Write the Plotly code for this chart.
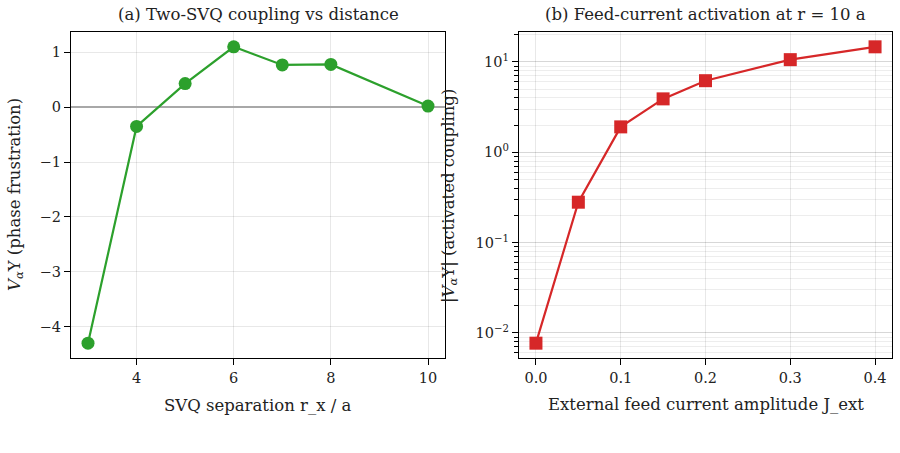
import plotly.graph_objects as go
import math

# ---- data ----
sep = [3, 4, 5, 6, 7, 8, 10]
v_coupling = [-4.30, -0.35, 0.43, 1.10, 0.77, 0.78, 0.02]

j_ext = [0.0, 0.05, 0.10, 0.15, 0.20, 0.30, 0.40]
v_activated = [0.0077, 0.28, 1.91, 3.9, 6.2, 10.6, 14.7]

left_xticks = [4, 6, 8, 10]
left_yticks = [-4, -3, -2, -1, 0, 1]
right_xticks = [0.0, 0.1, 0.2, 0.3, 0.4]
right_yticks = [0.01, 0.1, 1, 10]
right_yticktext = ["10<sup>−2</sup>", "10<sup>−1</sup>", "10<sup>0</sup>", "10<sup>1</sup>"]

title_a = "(a) Two-SVQ coupling vs distance"
title_b = "(b) Feed-current activation at r = 10 a"
xlabel_a = "SVQ separation r_x / a"
xlabel_b = "External feed current amplitude J_ext"
ylabel_a = "<i>V</i><sub><i>α</i></sub>Υ (phase frustration)"
ylabel_b = "|<i>V</i><sub><i>α</i></sub>Υ| (activated coupling)"

GREEN = "#2ca02c"
RED = "#d62728"
FONT = "DejaVu Serif"
W, H = 900, 453


def pad(lo, hi, m=0.05):
    s = hi - lo
    return [lo - m * s, hi + m * s]


def minus(v):
    s = ("%g" % v)
    return s.replace("-", "−")


fig = go.Figure()
fig.add_trace(go.Scatter(x=sep, y=v_coupling, mode="lines+markers",
                         line=dict(color=GREEN, width=2.2),
                         marker=dict(color=GREEN, size=13, symbol="circle"),
                         xaxis="x", yaxis="y", showlegend=False))
fig.add_trace(go.Scatter(x=j_ext, y=v_activated, mode="lines+markers",
                         line=dict(color=RED, width=2.2),
                         marker=dict(color=RED, size=13, symbol="square"),
                         xaxis="x2", yaxis="y2", showlegend=False))

xd1 = [71 / W, 445 / W]
xd2 = [519 / W, 892 / W]
yd = [1 - 358 / H, 1 - 32 / H]

common = dict(showline=True, linecolor="black", linewidth=1.3, mirror=True,
              ticks="outside", ticklen=6, tickwidth=1.1, tickcolor="black",
              showgrid=True, gridcolor="rgba(0,0,0,0.09)", gridwidth=1,
              tickfont=dict(family=FONT, size=14.5, color="#222"),
              zeroline=False)

ly = [math.log10(v) for v in v_activated]

fig.update_layout(
    width=W, height=H, margin=dict(l=0, r=0, t=0, b=0),
    paper_bgcolor="white", plot_bgcolor="white",
    font=dict(family=FONT, size=14, color="#222"),
    xaxis=dict(domain=xd1, range=pad(min(sep), max(sep)),
               tickvals=left_xticks, ticktext=[minus(v) for v in left_xticks],
               anchor="y", **common),
    yaxis=dict(domain=yd, range=pad(min(v_coupling), max(v_coupling)),
               tickvals=left_yticks, ticktext=[minus(v) for v in left_yticks],
               anchor="x", **{**common, "zeroline": True,
                              "zerolinecolor": "#a8a8a8", "zerolinewidth": 1.6}),
    xaxis2=dict(domain=xd2, range=pad(min(j_ext), max(j_ext)),
                tickvals=right_xticks, ticktext=["%.1f" % v for v in right_xticks],
                anchor="y2", **common),
    yaxis2=dict(domain=yd, type="log", range=pad(min(ly), max(ly)),
                tickvals=right_yticks, ticktext=right_yticktext,
                anchor="x2",
                minor=dict(ticks="outside", ticklen=3.5, tickcolor="black",
                           dtick="D1", showgrid=True,
                           gridcolor="rgba(0,0,0,0.07)", gridwidth=1),
                **common),
)


def label(text, x, y, angle=0, size=16.5):
    return dict(text=text, x=x / W, y=1 - y / H, xref="paper", yref="paper",
                xanchor="center", yanchor="middle", textangle=angle,
                showarrow=False, font=dict(family=FONT, size=size, color="#222"))


ann = [
    label(title_a, (71 + 445) / 2, 15),
    label(title_b, (519 + 892) / 2, 15),
    label(xlabel_a, (71 + 445) / 2, 405),
    label(xlabel_b, (519 + 892) / 2, 404),
    label(ylabel_a, 15, 195, -90),
    label(ylabel_b, 449, 196, -90),
]
fig.update_layout(annotations=ann)

fig.write_html("out.html")
